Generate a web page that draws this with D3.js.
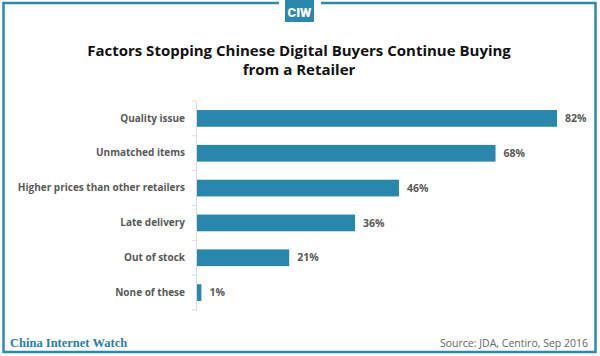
<!DOCTYPE html>
<html><head><meta charset="utf-8">
<script src="https://cdn.jsdelivr.net/npm/d3@7"></script>
<style>body{margin:0;background:#fff}svg{display:block}</style>
</head><body>
<svg id="c" width="600" height="356"></svg>
<script>
const categories = ["Quality issue","Unmatched items","Higher prices than other retailers","Late delivery","Out of stock","None of these"];
const values = [82,68,46,36,21,1];
const titleLines = ["Factors Stopping Chinese Digital Buyers Continue Buying","from a Retailer"];
const source = "Source: JDA, Centiro, Sep 2016";
const brand = "China Internet Watch";

const svg = d3.select("#c");
const blue = "#2887ab";
const gray = "#595959";

// frame
svg.append("rect").attr("x",3.5).attr("y",3).attr("width",592).attr("height",349)
  .attr("fill","none").attr("stroke","#2d89ae").attr("stroke-width",2.5);
// logo gap + logo
svg.append("rect").attr("x",279).attr("y",0).attr("width",42).attr("height",8).attr("fill","#fff");
svg.append("rect").attr("x",285).attr("y",0).attr("width",29).attr("height",22).attr("fill","#2a88ad");
svg.append("text").attr("x",299.5).attr("y",17).attr("text-anchor","middle")
  .attr("font-family","Roboto, sans-serif").attr("font-weight",900).attr("font-size",13)
  .attr("fill","#fff").text("CIW");

// title
svg.append("g").selectAll("text").data(titleLines).join("text")
  .attr("x",299).attr("y",(d,i)=>56+i*19).attr("text-anchor","middle")
  .attr("font-family","'Open Sans', sans-serif").attr("font-weight",700).attr("font-size",15)
  .attr("fill","#111").text(d=>d);

const x = d3.scaleLinear().domain([0,82]).range([197,557]);
const y = d3.scaleBand().domain(categories).range([101,310]).paddingInner(0.52).paddingOuter(0.26);

const ax = svg.append("g").attr("transform","translate(196,0)")
  .call(d3.axisLeft(y).tickSize(0).tickPadding(11));
ax.select(".domain").attr("stroke","#dcdcdc");
ax.selectAll("text").attr("font-family","'Open Sans', sans-serif").attr("font-weight",700)
  .attr("font-size",10).attr("fill",gray);
// boundary ticks
const bounds = d3.range(categories.length+1).map(i=>101+i*(209/categories.length));
svg.append("g").selectAll("line").data(bounds).join("line")
  .attr("x1",192).attr("x2",196).attr("y1",d=>d).attr("y2",d=>d).attr("stroke","#dcdcdc");

svg.append("g").selectAll("rect").data(values).join("rect")
  .attr("x",x(0)).attr("y",(d,i)=>y(categories[i])).attr("height",y.bandwidth())
  .attr("width",d=>x(d)-x(0)).attr("fill",blue);

svg.append("g").selectAll("text").data(values).join("text")
  .attr("x",d=>x(d)+8).attr("y",(d,i)=>y(categories[i])+y.bandwidth()/2).attr("dy","0.35em")
  .attr("font-family","'Open Sans', sans-serif").attr("font-weight",700).attr("font-size",10.5)
  .attr("fill",gray).text(d=>d+"%");

svg.append("text").attr("x",10).attr("y",347).attr("font-family","'Liberation Serif', serif")
  .attr("font-weight",700).attr("font-size",12.5).attr("fill","#2a7fa6").text(brand);
svg.append("text").attr("x",588).attr("y",347).attr("text-anchor","end")
  .attr("font-family","'Open Sans', sans-serif").attr("font-size",10.5).attr("fill","#666").text(source);
</script>
</body></html>
